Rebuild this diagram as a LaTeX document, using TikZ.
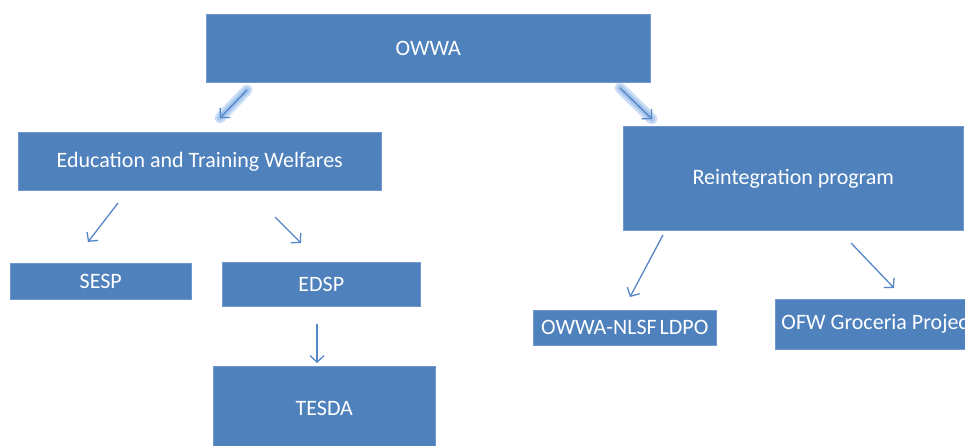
\documentclass[tikz,border=0pt]{standalone}
\usepackage{fontspec}
\setmainfont{Carlito}
\usetikzlibrary{arrows.meta}
\definecolor{boxblue}{HTML}{4F81BD}
\definecolor{boxedge}{HTML}{6F98CF}
\definecolor{arrowblue}{HTML}{5586C8}
\definecolor{glowblue}{HTML}{8FB6EA}
\tikzset{
  box/.style={draw=boxedge, line width=0.6pt, fill=boxblue, anchor=north west, inner sep=0pt,
    text=white, font=\fontsize{22}{26}\selectfont},
  link/.style={draw=arrowblue, line width=1.3pt, -{Straight Barb[length=6.5pt,width=14pt,line width=1.3pt]}},
  glow/.style={draw=glowblue, line width=11pt, line cap=round, opacity=0.45},
  glowin/.style={draw=glowblue, line width=6pt, line cap=round, opacity=0.6}
}
\begin{document}
\begin{tikzpicture}[x=1pt,y=-1pt]
\useasboundingbox (0,0) rectangle (965,446);
\clip (0,0) rectangle (965,446);
\fill[white] (0,0) rectangle (965,446);

\node[box, minimum width=444pt, minimum height=68pt] (owwa) at (206,14) {OWWA};
\node[box, minimum width=363pt, minimum height=58pt] (edu) at (18,132) {Education and Training Welfares};
\node[box, minimum width=340pt, minimum height=104pt] (reint) at (623,126) {Reintegration program};
\node[box, minimum width=181pt, minimum height=36pt] (sesp) at (10,263) {SESP};
\node[box, minimum width=198pt, minimum height=44pt] (edsp) at (222,262) {EDSP};
\node[box, minimum width=222pt, minimum height=84pt] (tesda) at (213,366) {TESDA};
\node[box, minimum width=183pt, minimum height=35pt] (ldpo) at (533,310) {OWWA-NLSF\hspace{-2pt} LDPO};
\node[box, minimum width=206pt, minimum height=50pt] (ofw) at (775,299) {OFW Groceria Project};

% arrow end points
\coordinate (a1s) at (247,90);  \coordinate (a1e) at (220,118);
\coordinate (a2s) at (620,88);  \coordinate (a2e) at (652,119);
\coordinate (a3s) at (118,203); \coordinate (a3e) at (88,242);
\coordinate (a4s) at (275,217); \coordinate (a4e) at (301,243);
\coordinate (a5s) at (317,324); \coordinate (a5e) at (317,363);
\coordinate (a6s) at (663,235); \coordinate (a6e) at (630,297);
\coordinate (a7s) at (851,243); \coordinate (a7e) at (894,288);

% glow for the two upper arrows
\draw[glow] (a1s) -- (a1e);
\draw[glow] (a2s) -- (a2e);
\draw[glowin] (a1s) -- (a1e);
\draw[glowin] (a2s) -- (a2e);

\draw[link] (a1s) -- (a1e);
\draw[link] (a2s) -- (a2e);
\draw[link] (a3s) -- (a3e);
\draw[link] (a4s) -- (a4e);
\draw[link] (a5s) -- (a5e);
\draw[link] (a6s) -- (a6e);
\draw[link] (a7s) -- (a7e);
\end{tikzpicture}
\end{document}
